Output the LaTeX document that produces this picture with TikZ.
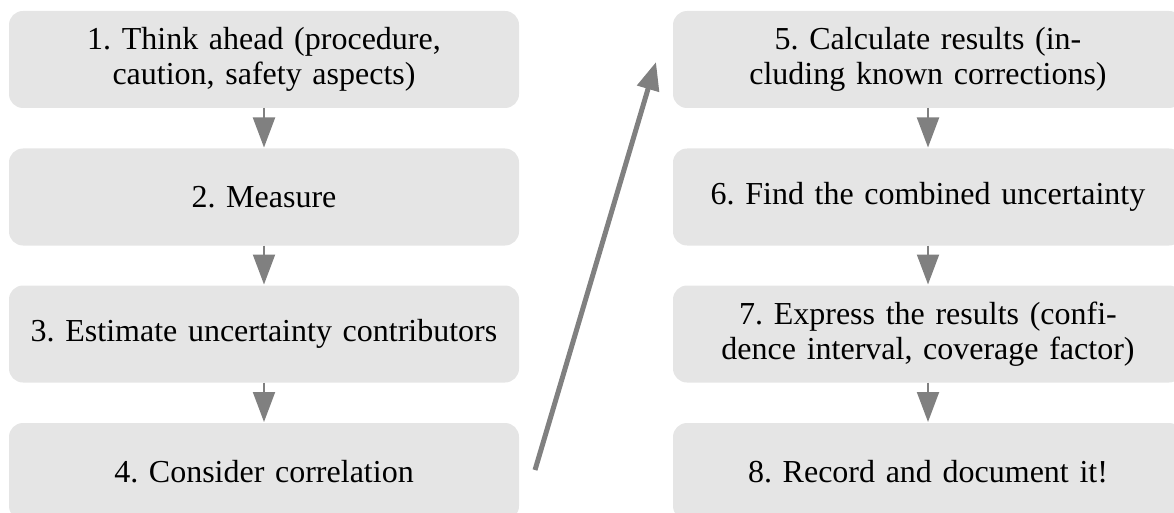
\documentclass[tikz,border=0pt]{standalone}
\usepackage{fontspec}
\setmainfont{Liberation Serif}
\usetikzlibrary{arrows.meta}
\definecolor{boxgray}{HTML}{E5E5E5}
\definecolor{arrgray}{HTML}{808080}
\frenchspacing
\tikzset{
  stepbox/.style={rectangle, rounded corners=14pt, fill=boxgray, draw=none,
    minimum width=510pt, minimum height=97pt, inner sep=0pt, outer sep=0pt,
    text width=500pt, align=center, font=\fontsize{32}{35.5}\selectfont},
  flowarrow/.style={draw=arrgray, line width=2pt,
    -{Triangle[length=30pt, width=22pt, fill=arrgray]}, shorten >=1pt},
  bigarrow/.style={draw=arrgray, line width=5pt,
    -{Triangle[length=28pt, width=22pt, fill=arrgray]}}
}
\begin{document}
\begin{tikzpicture}[x=1pt, y=-1pt]
\useasboundingbox (0,0) rectangle (1174,513);
\node[stepbox] (b1) at (264,59.5) {1. Think ahead (procedure,\\caution, safety aspects)};
\node[stepbox] (b2) at (264,197) {2. Measure};
\node[stepbox] (b3) at (264,334) {3. Estimate uncertainty contributors};
\node[stepbox] (b4) at (264,471.5) {4. Consider correlation};
\node[stepbox] (b5) at (928,59.5) {5. Calculate results (in-\\cluding known corrections)};
\node[stepbox] (b6) at (928,197) {6. Find the combined uncertainty};
\node[stepbox] (b7) at (928,334) {7. Express the results (confi-\\dence interval, coverage factor)};
\node[stepbox] (b8) at (928,471.5) {8. Record and document it!};
\draw[flowarrow] (b1.south) -- (b2.north);
\draw[flowarrow] (b2.south) -- (b3.north);
\draw[flowarrow] (b3.south) -- (b4.north);
\draw[flowarrow] (b5.south) -- (b6.north);
\draw[flowarrow] (b6.south) -- (b7.north);
\draw[flowarrow] (b7.south) -- (b8.north);
\coordinate (dstart) at (535,470);
\coordinate (dend) at (656,62);
\draw[bigarrow] (dstart) -- (dend);
\end{tikzpicture}
\end{document}
